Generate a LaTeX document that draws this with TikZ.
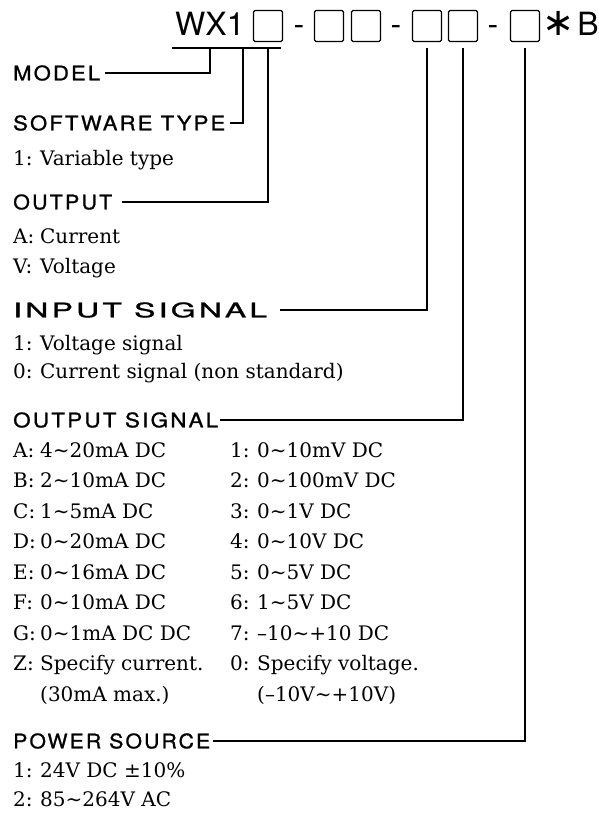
\documentclass[tikz,border=0pt]{standalone}
\usepackage{fontspec}
\usepackage{graphicx}
\setmainfont{DejaVu Serif}
\setsansfont{TeX Gyre Heros}
\newfontfamily\hdfont[LetterSpace=10,FakeBold=1]{TeX Gyre Heros}
\newfontfamily\djs{DejaVu Sans}
\newcommand{\tl}{∼}
\newcommand{\ent}[2]{\makebox[27pt][l]{#1}#2}
\newcommand{\hdt}[2]{\resizebox{#1}{15pt}{\hdfont #2}}
\tikzset{
  ln/.style={line width=1.2pt},
  hd/.style={anchor=west, inner sep=0pt},
  body/.style={anchor=base west, inner sep=0pt, font=\fontsize{20}{20}\selectfont},
  hdr/.style={anchor=base, inner sep=0pt, font=\sffamily\fontsize{32}{32}\selectfont},
  bx/.style={draw, line width=1.2pt, rounded corners=1.5pt, minimum width=29pt, minimum height=31pt, inner sep=0pt}
}
\begin{document}
\begin{tikzpicture}[x=1pt,y=-1pt]
\useasboundingbox (0,0) rectangle (599,824);
% header
\node[hdr, anchor=base west] (wx) at (175,36) {WX1};
\node[bx] (b0) at (268,26) {};
\node[hdr] (d1) at (299,36) {-};
\node[bx] (b1) at (329,26) {};
\node[bx] (b2) at (366,26) {};
\node[hdr] (d2) at (396,36) {-};
\node[bx] (b3) at (427,26) {};
\node[bx] (b4) at (463,26) {};
\node[hdr] (d3) at (493,36) {-};
\node[bx] (b5) at (525,26) {};
\node[anchor=center, inner sep=0pt] (ast) at (559,23) {\scalebox{1.6}{\djs\fontsize{24}{24}\selectfont ∗}};
\node[hdr] (bb) at (588,36) {B};
\coordinate (ulL) at (172,48);
\coordinate (ulR) at (281,48);
\coordinate (mtop) at (210,48);
\coordinate (stop) at (243,48);
\coordinate (otop) at (268,48);
\draw[ln] (ulL) -- (ulR);
% headings
\node[hd] (model) at (13,73) {\hdt{87pt}{MODEL}};
\node[hd] (swt) at (13,123) {\hdt{212pt}{SOFTWARE TYPE}};
\node[hd] (outp) at (13,202) {\hdt{99pt}{OUTPUT}};
\node[hd] (insig) at (13,310) {\hdt{254pt}{INPUT SIGNAL}};
\node[hd] (osig) at (13,420) {\hdt{205pt}{OUTPUT SIGNAL}};
\node[hd] (psrc) at (13,741) {\hdt{197pt}{POWER SOURCE}};
% body
\node[body] (var) at (13,165) {\ent{1:}{Variable type}};
\node[body] (cur) at (13,243) {\ent{A:}{Current}};
\node[body] (vol) at (13,273) {\ent{V:}{Voltage}};
\node[body] (vsig) at (13,350) {\ent{1:}{Voltage signal}};
\node[body] (csig) at (13,378) {\ent{0:}{Current signal (non standard)}};
\node[body] (oa) at (13,457) {\ent{A:}{4\tl20mA DC}};
\node[body] (ob) at (13,487.5) {\ent{B:}{2\tl10mA DC}};
\node[body] (oc) at (13,518) {\ent{C:}{1\tl5mA DC}};
\node[body] (od) at (13,548.5) {\ent{D:}{0\tl20mA DC}};
\node[body] (oe) at (13,579) {\ent{E:}{0\tl16mA DC}};
\node[body] (of) at (13,609.5) {\ent{F:}{0\tl10mA DC}};
\node[body] (og) at (13,640) {\ent{G:}{0\tl1mA DC DC}};
\node[body] (oz) at (13,670.5) {\ent{Z:}{Specify current.}};
\node[body] (oz2) at (13,701) {\ent{}{(30mA max.)}};
\node[body] (o1) at (230,457) {\ent{1:}{0\tl10mV DC}};
\node[body] (o2) at (230,487.5) {\ent{2:}{0\tl100mV DC}};
\node[body] (o3) at (230,518) {\ent{3:}{0\tl1V DC}};
\node[body] (o4) at (230,548.5) {\ent{4:}{0\tl10V DC}};
\node[body] (o5) at (230,579) {\ent{5:}{0\tl5V DC}};
\node[body] (o6) at (230,609.5) {\ent{6:}{1\tl5V DC}};
\node[body] (o7) at (230,640) {\ent{7:}{–10\tl+10 DC}};
\node[body] (o0) at (230,670.5) {\ent{0:}{Specify voltage.}};
\node[body] (o02) at (230,701) {\ent{}{(–10V\tl+10V)}};
\node[body] (p1) at (13,777) {\ent{1:}{24V DC ±10\%}};
\node[body] (p2) at (13,806) {\ent{2:}{85\tl264V AC}};
% connectors
\draw[ln] ([xshift=5pt]model.east) -| (mtop);
\draw[ln] ([xshift=5pt]swt.east) -| (stop);
\draw[ln] ([xshift=10pt]outp.east) -| (otop);
\draw[ln] ([xshift=13pt]insig.east) -| ([yshift=-6pt]b3.south);
\draw[ln] ([xshift=2pt]osig.east) -| ([yshift=-6pt]b4.south);
\draw[ln] ([xshift=3pt]psrc.east) -| ([yshift=-6pt]b5.south);
\end{tikzpicture}
\end{document}
